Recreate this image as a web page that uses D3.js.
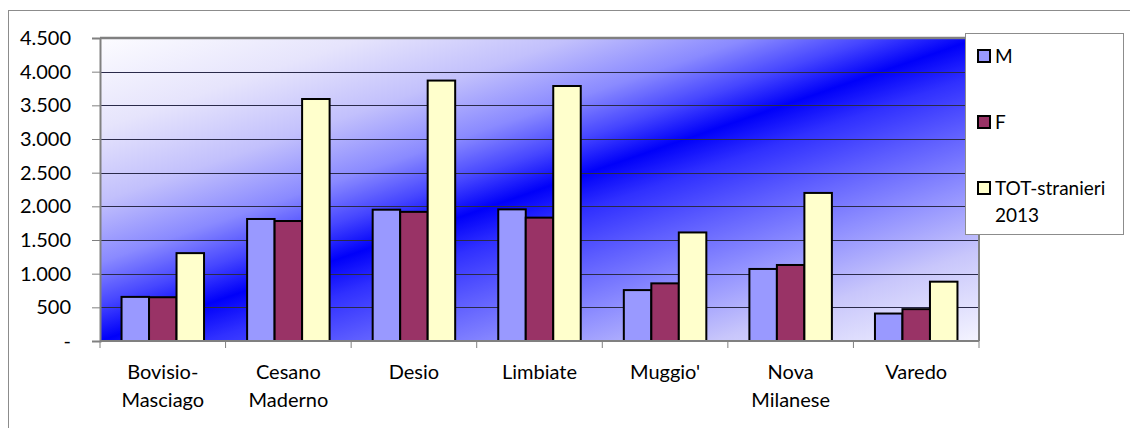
<!DOCTYPE html>
<html><head><meta charset="utf-8">
<script src="https://cdn.jsdelivr.net/npm/d3@7"></script>
<style>body{margin:0;background:#fff}svg{display:block}text{font-family:Lato,"Open Sans",sans-serif;fill:#000}</style>
</head><body>
<script>
const categories = [["Bovisio-","Masciago"],["Cesano","Maderno"],["Desio"],["Limbiate"],["Muggio'"],["Nova","Milanese"],["Varedo"]];
const seriesNames = ["M","F",["TOT-stranieri","2013"]];
const valuesM = [655,1812,1950,1955,756,1070,408];
const valuesF = [650,1782,1918,1832,856,1129,473];
const valuesTOT = [1305,3594,3868,3787,1612,2199,881];
const yTicks = [0,500,1000,1500,2000,2500,3000,3500,4000,4500];
const colors = ["#9999ff","#993366","#ffffcc"];

const W=1130,H=428;
const svg=d3.select("body").append("svg").attr("width",W).attr("height",H);
const defs=svg.append("defs");
const g1=defs.append("linearGradient").attr("id","bg").attr("x1",0).attr("y1",0).attr("x2",1).attr("y2",1);
[[0,"#fcfcff"],[0.15,"#e6e4fc"],[0.27,"#c2c0fc"],[0.37,"#8a8aff"],[0.44,"#4646ff"],[0.5,"#0000fa"],[0.56,"#3030ff"],[0.64,"#5c5cff"],[0.74,"#9090ff"],[0.85,"#c8c6fb"],[1,"#f4f4ff"]]
 .forEach(([o,c])=>g1.append("stop").attr("offset",o).attr("stop-color",c));

// outer chart border
svg.append("rect").attr("x",8.5).attr("y",10.5).attr("width",1200).attr("height",500).attr("fill","none").attr("stroke","#8c8c8c").attr("stroke-width",1);

const x0=100,x1=979,yTop=38,yBot=341;
const x=d3.scaleBand().domain(d3.range(categories.length)).range([x0,x1]);
const y=d3.scaleLinear().domain([0,4500]).range([yBot,yTop]);

svg.append("rect").attr("x",x0).attr("y",yTop).attr("width",x1-x0).attr("height",yBot-yTop).attr("fill","url(#bg)");

// gridlines
svg.append("g").selectAll("line").data(yTicks.filter(d=>d>0)).join("line")
 .attr("x1",x0).attr("x2",x1).attr("y1",d=>Math.round(y(d))+0.5).attr("y2",d=>Math.round(y(d))+0.5)
 .attr("stroke","#2a2a4a").attr("stroke-width",1);
// plot top/right border
svg.append("line").attr("x1",x0).attr("x2",x1).attr("y1",yTop).attr("y2",yTop).attr("stroke","#808080").attr("stroke-width",2.5);
svg.append("line").attr("x1",x1).attr("x2",x1).attr("y1",yTop).attr("y2",yBot).attr("stroke","#808080").attr("stroke-width",2);

// bars
const bw=27.5;
const allSeries=[valuesM,valuesF,valuesTOT];
const bars=svg.append("g");
allSeries.forEach((vals,si)=>{
  bars.selectAll(null).data(vals).join("rect")
   .attr("x",(d,i)=>x(i)+x.bandwidth()/2-1.5*bw+si*bw)
   .attr("y",d=>y(d))
   .attr("width",bw).attr("height",d=>yBot-y(d))
   .attr("fill",colors[si]).attr("stroke","#000").attr("stroke-width",2);
});

// y axis
const yAxis=d3.axisLeft(y).tickValues(yTicks).tickSize(8).tickPadding(21)
 .tickFormat(d=>d===0?"-":d3.format(",")(d).replace(/,/g,"."));
const ya=svg.append("g").attr("transform",`translate(${x0},0)`).call(yAxis);
ya.select(".domain").attr("stroke","#808080").attr("stroke-width",2);
ya.selectAll(".tick line").attr("stroke","#808080");
ya.selectAll("text").attr("font-size",20).style("font-family","Lato");

// x axis
const xa=svg.append("g").attr("transform",`translate(0,${yBot})`);
xa.append("line").attr("x1",x0).attr("x2",x1).attr("stroke","#808080").attr("stroke-width",2);
xa.selectAll("line.t").data(d3.range(categories.length+1)).join("line").attr("class","t")
 .attr("x1",i=>x0+i*x.step()).attr("x2",i=>x0+i*x.step()).attr("y1",0).attr("y2",7).attr("stroke","#808080");
const xl=xa.selectAll("text").data(categories).join("text")
 .attr("text-anchor","middle").attr("font-size",20)
 .attr("transform",(d,i)=>`translate(${x(i)+x.bandwidth()/2},38)`);
xl.selectAll("tspan").data(d=>d).join("tspan").attr("x",0).attr("dy",(d,j)=>j===0?0:28).text(d=>d);

// legend
const lg=svg.append("g");
lg.append("rect").attr("x",965.5).attr("y",33.5).attr("width",158).attr("height",201).attr("fill","#fff").attr("stroke","#8c8c8c");
const ly=[56,122,188];
seriesNames.forEach((n,i)=>{
  lg.append("rect").attr("x",978).attr("y",ly[i]-6).attr("width",12).attr("height",12).attr("fill",colors[i]).attr("stroke","#000").attr("stroke-width",2);
  const t=lg.append("text").attr("x",995).attr("y",ly[i]+7).attr("font-size",19);
  const lines=Array.isArray(n)?n:[n];
  t.selectAll("tspan").data(lines).join("tspan").attr("x",995).attr("dy",(d,j)=>j===0?0:27).text(d=>d);
});
</script>
</body></html>
